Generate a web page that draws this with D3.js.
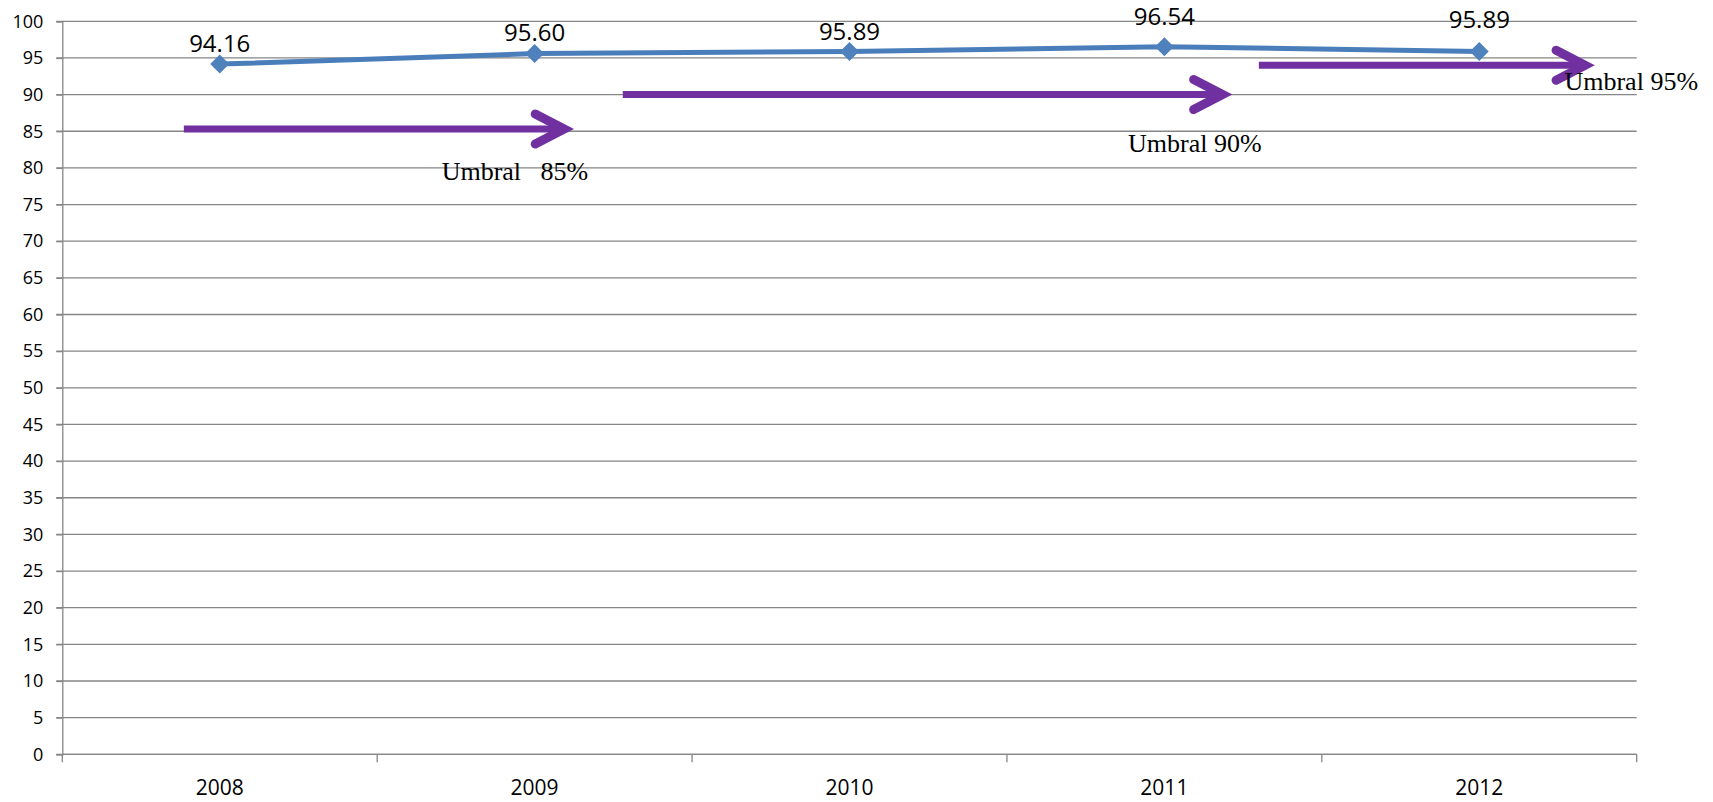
<!DOCTYPE html>
<html>
<head>
<meta charset="utf-8">
<script src="https://cdn.jsdelivr.net/npm/d3@7"></script>
<style>
  html, body { margin: 0; padding: 0; background: #fff; }
  svg { display: block; }
</style>
</head>
<body>
<svg id="chart"></svg>
<script>
// data
const years = ['2008', '2009', '2010', '2011', '2012'];
const values = [94.16, 95.60, 95.89, 96.54, 95.89];
const yTicks = d3.range(0, 101, 5);

// threshold arrows (start/end in category units, value on the y axis)
const thresholdLabels = ['Umbral   85%', 'Umbral 90%', 'Umbral 95%'];
const thresholdValues = [85.3, 90, 94];
const thresholdStart = [0.386, 1.78, 3.80];
const thresholdEnd = [1.594, 3.685, 4.836];

const width = 1713, height = 802;
const plot = { left: 62.3, right: 1636.7, top: 21.3, bottom: 754.3 };

const svg = d3.select('#chart')
  .attr('width', width)
  .attr('height', height)
  .attr('viewBox', [0, 0, width, height]);

const x = d3.scaleBand()
  .domain(years)
  .range([plot.left, plot.right])
  .padding(0);

const xPos = d3.scaleLinear()
  .domain([0, years.length])
  .range([plot.left, plot.right]);

const y = d3.scaleLinear()
  .domain([0, 100])
  .range([plot.bottom, plot.top]);

const gridColor = '#868686';
const axisFont = "'Open Sans', sans-serif";

// gridlines
svg.append('g')
  .selectAll('line')
  .data(yTicks)
  .join('line')
  .attr('x1', plot.left - 6)
  .attr('x2', plot.right)
  .attr('y1', d => y(d))
  .attr('y2', d => y(d))
  .attr('stroke', gridColor)
  .attr('stroke-width', 1.3);

// y axis
const yAxis = svg.append('g')
  .attr('transform', `translate(${plot.left},0)`)
  .call(d3.axisLeft(y).tickValues(yTicks).tickSize(6).tickPadding(13).tickFormat(d3.format('d')));
yAxis.select('.domain').attr('stroke', gridColor).attr('stroke-width', 1.3);
yAxis.selectAll('.tick line').attr('stroke', gridColor).attr('stroke-width', 1.3);
yAxis.selectAll('text')
  .attr('fill', '#000')
  .style('font-family', axisFont)
  .style('font-size', '18px');

// x axis: ticks at category boundaries
svg.append('line')
  .attr('x1', plot.left).attr('x2', plot.right)
  .attr('y1', plot.bottom).attr('y2', plot.bottom)
  .attr('stroke', gridColor).attr('stroke-width', 1.3);

svg.append('g')
  .selectAll('line')
  .data(d3.range(0, years.length + 1))
  .join('line')
  .attr('x1', d => xPos(d))
  .attr('x2', d => xPos(d))
  .attr('y1', plot.bottom)
  .attr('y2', plot.bottom + 8)
  .attr('stroke', gridColor)
  .attr('stroke-width', 1.3);

svg.append('g')
  .selectAll('text')
  .data(years)
  .join('text')
  .attr('x', d => x(d) + x.bandwidth() / 2)
  .attr('y', 795)
  .attr('text-anchor', 'middle')
  .style('font-family', axisFont)
  .style('font-size', '21px')
  .text(d => d);

// threshold arrows
const purple = '#7030A0';
const arrows = svg.append('g');
thresholdValues.forEach((v, i) => {
  const x0 = xPos(thresholdStart[i]);
  const x1 = xPos(thresholdEnd[i]);
  const yy = y(v);
  arrows.append('line')
    .attr('x1', x0).attr('x2', x1 - 3)
    .attr('y1', yy).attr('y2', yy)
    .attr('stroke', purple)
    .attr('stroke-width', 7);
  arrows.append('path')
    .attr('d', `M${x1 - 29},${yy - 15}L${x1},${yy}L${x1 - 29},${yy + 15}`)
    .attr('fill', 'none')
    .attr('stroke', purple)
    .attr('stroke-width', 9)
    .attr('stroke-linecap', 'round')
    .attr('stroke-linejoin', 'miter');
});

// threshold labels, placed near each arrow tip
const labelDx = [24, 39, 113];
const labelDy = [51, 57, 25];
svg.append('g')
  .selectAll('text')
  .data(thresholdLabels)
  .join('text')
  .attr('x', (d, i) => xPos(thresholdEnd[i]) + labelDx[i])
  .attr('y', (d, i) => y(thresholdValues[i]) + labelDy[i])
  .attr('text-anchor', 'end')
  .attr('xml:space', 'preserve')
  .style('white-space', 'pre')
  .style('font-family', "'Liberation Serif', 'Times New Roman', serif")
  .style('font-size', '26px')
  .text(d => d);

// series line
const blue = '#4F81BD';
const line = d3.line()
  .x((d, i) => x(years[i]) + x.bandwidth() / 2)
  .y(d => y(d));

svg.append('path')
  .datum(values)
  .attr('d', line)
  .attr('fill', 'none')
  .attr('stroke', '#4A7EBB')
  .attr('stroke-width', 5)
  .attr('stroke-linejoin', 'round');

svg.append('g')
  .selectAll('path')
  .data(values)
  .join('path')
  .attr('transform', (d, i) => `translate(${x(years[i]) + x.bandwidth() / 2},${y(d)})`)
  .attr('d', 'M0,-9.5L9.5,0L0,9.5L-9.5,0Z')
  .attr('fill', blue);

// data labels (nudged like the original)
const labelLift = [12, 13, 11, 22, 23];
svg.append('g')
  .selectAll('text')
  .data(values)
  .join('text')
  .attr('x', (d, i) => x(years[i]) + x.bandwidth() / 2)
  .attr('y', (d, i) => y(d) - labelLift[i])
  .attr('text-anchor', 'middle')
  .style('font-family', axisFont)
  .style('font-size', '24px')
  .text(d => d3.format('.2f')(d));
</script>
</body>
</html>
